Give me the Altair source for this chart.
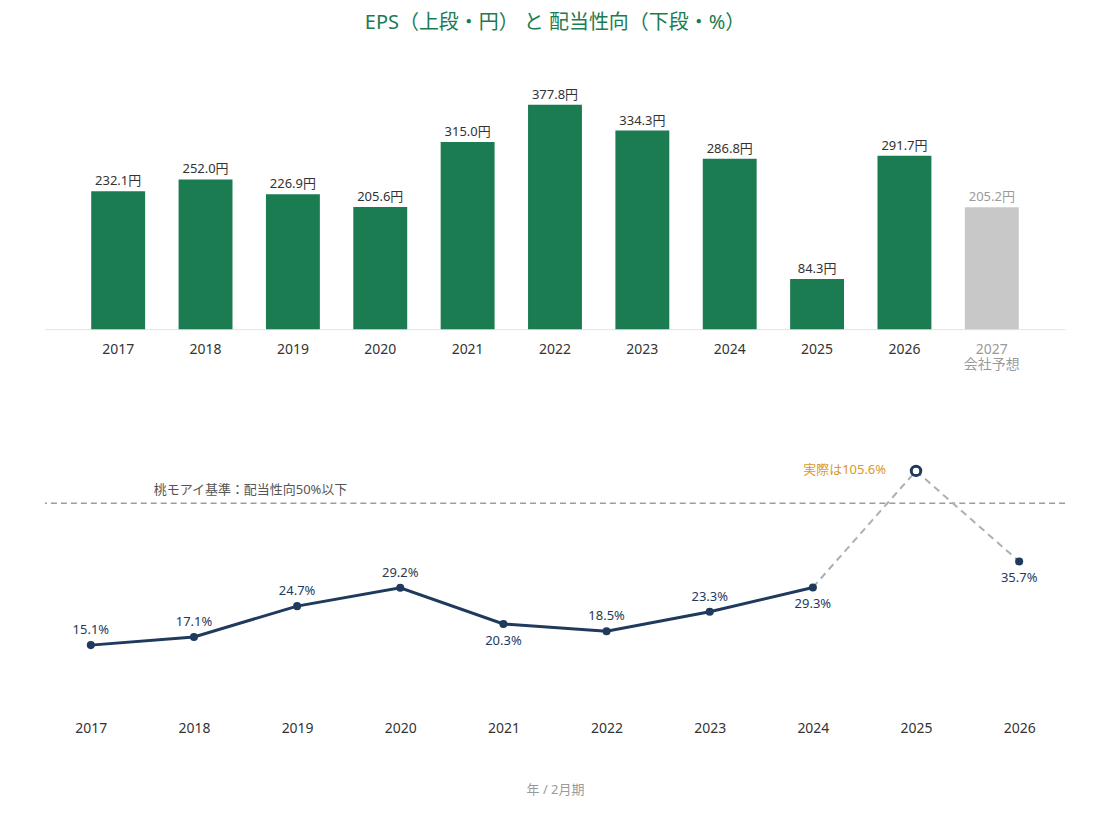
import altair as alt
import pandas as pd

FONT = "Noto Sans, Noto Sans CJK JP"
GREEN = "#1b7b51"
GREY_BAR = "#c8c8c8"
NAVY = "#1f3a5c"
ORANGE = "#d9972c"

# EPS by fiscal year (February year-end), yen; 2027 is the company forecast
eps_years = ["2017", "2018", "2019", "2020", "2021", "2022", "2023", "2024", "2025", "2026", "2027"]
eps_values = [232.1, 252.0, 226.9, 205.6, 315.0, 377.8, 334.3, 286.8, 84.3, 291.7, 205.2]
eps_forecast = [False] * 10 + [True]

# Dividend payout ratio, %
payout_years = ["2017", "2018", "2019", "2020", "2021", "2022", "2023", "2024", "2025", "2026"]
payout_values = [15.1, 17.1, 24.7, 29.2, 20.3, 18.5, 23.3, 29.3, 105.6, 35.7]
outlier_year = "2025"
threshold = 50

# labels that sit under their point instead of above it
below_years = {"2021", "2024", "2026"}

eps_df = pd.DataFrame({"year": eps_years, "eps": eps_values, "forecast": eps_forecast})
eps_df["label"] = eps_df["eps"].map(lambda v: f"{v:.1f}円")

pay_df = pd.DataFrame({"year": payout_years, "ratio": payout_values})
pay_df["label"] = pay_df["ratio"].map(lambda v: f"{v:.1f}%")
pay_df["outlier"] = pay_df["year"] == outlier_year
pay_df["below"] = pay_df["year"].isin(below_years)

out_idx = payout_years.index(outlier_year)
solid_df = pay_df.iloc[: out_idx]
dashed_df = pay_df.iloc[out_idx - 1: out_idx + 2]
normal_pts = pay_df[~pay_df["outlier"]]
outlier_pts = pay_df[pay_df["outlier"]].copy()
outlier_pts["note"] = outlier_pts["ratio"].map(lambda v: f"実際は{v:.1f}%")

W = 1022
Y_DOMAIN = [0, 58]

# ---- upper panel: EPS bars ----
bx = alt.X(
    "year:N",
    sort=eps_years,
    scale=alt.Scale(paddingInner=0.383, paddingOuter=0.53),
    axis=alt.Axis(
        title=None,
        labelAngle=0,
        ticks=False,
        labelPadding=13,
        labelFontSize=14,
        labelFont=FONT,
        labelColor={"condition": {"test": "datum.value == '2027'", "value": "#9a9a9a"}, "value": "#333333"},
        labelExpr="datum.value == '2027' ? ['2027', '会社予想'] : datum.value",
        labelLineHeight=15,
        domainColor="#e3e3e3",
        domainWidth=1,
    ),
)
by = alt.Y("eps:Q", scale=alt.Scale(domain=[0, 420]), axis=None)

bars = alt.Chart(eps_df).mark_bar().encode(
    x=bx,
    y=by,
    color=alt.Color(
        "forecast:N",
        scale=alt.Scale(domain=[False, True], range=[GREEN, GREY_BAR]),
        legend=None,
    ),
)
bar_labels = alt.Chart(eps_df).mark_text(
    baseline="bottom", dy=-3, fontSize=13, font=FONT
).encode(
    x=bx,
    y=by,
    text="label:N",
    color=alt.Color(
        "forecast:N",
        scale=alt.Scale(domain=[False, True], range=["#333333", "#9a9a9a"]),
        legend=None,
    ),
)
top = alt.layer(bars, bar_labels).resolve_scale(color="independent").properties(width=W, height=250)

# ---- lower panel: payout ratio line ----
lx = alt.X(
    "year:N",
    sort=payout_years,
    scale=alt.Scale(type="point", padding=0.445),
    axis=alt.Axis(
        title="年 / 2月期",
        titleFont=FONT,
        titleFontSize=13,
        titleFontWeight="normal",
        titleColor="#9a9a9a",
        titlePadding=48,
        labelAngle=0,
        ticks=False,
        domain=False,
        labelPadding=15,
        labelFontSize=14,
        labelFont=FONT,
        labelColor="#333333",
    ),
)
ly = alt.Y("ratio:Q", scale=alt.Scale(domain=Y_DOMAIN, clamp=True), axis=None)

ref = alt.Chart(pd.DataFrame({"ratio": [threshold]})).mark_rule(
    color="#9d9d9d", strokeDash=[6, 4], strokeWidth=1.5
).encode(y=ly)

ref_label = alt.Chart(
    pd.DataFrame({"ratio": [threshold], "t": [f"桃モアイ基準：配当性向{threshold}%以下"]})
).mark_text(
    align="left", baseline="middle", dy=-13, fontSize=13, font=FONT, color="#555555"
).encode(x=alt.value(109), y=ly, text="t:N")

dashed = alt.Chart(dashed_df).mark_line(
    color="#aab0b7", strokeDash=[7, 5], strokeWidth=2
).encode(x=lx, y=ly)

solid = alt.Chart(solid_df).mark_line(color=NAVY, strokeWidth=3).encode(x=lx, y=ly)

dots = alt.Chart(normal_pts).mark_circle(color=NAVY, size=65, opacity=1).encode(x=lx, y=ly)

open_dot = alt.Chart(outlier_pts).mark_point(
    shape="circle", filled=False, fill="white", color=NAVY, strokeWidth=3, size=90, opacity=1
).encode(x=lx, y=ly)

above_labels = alt.Chart(normal_pts[~normal_pts["below"]]).mark_text(
    baseline="middle", dy=-15, fontSize=13, font=FONT, color=NAVY
).encode(x=lx, y=ly, text="label:N")

below_labels = alt.Chart(normal_pts[normal_pts["below"]]).mark_text(
    baseline="middle", dy=17, fontSize=13, font=FONT, color=NAVY
).encode(x=lx, y=ly, text="label:N")

note = alt.Chart(outlier_pts).mark_text(
    align="right", baseline="middle", dx=-30, dy=-1, fontSize=13, font=FONT, color=ORANGE
).encode(x=lx, y=ly, text="note:N")

bottom = alt.layer(
    ref, ref_label, dashed, solid, dots, open_dot, above_labels, below_labels, note
).properties(width=W, height=236)

chart = alt.vconcat(top, bottom, spacing=142, bounds="flush").properties(
    title=alt.TitleParams(
        "EPS（上段・円） と 配当性向（下段・%）",
        font=FONT,
        fontSize=20,
        fontWeight="normal",
        color=GREEN,
        anchor="middle",
        offset=47,
    ),
    background="white",
    padding={"left": 44, "top": 12, "right": 34, "bottom": 10},
).configure_view(strokeWidth=0, stroke="transparent")

chart.save("out.html", embed_options={"renderer": "svg", "actions": False})
